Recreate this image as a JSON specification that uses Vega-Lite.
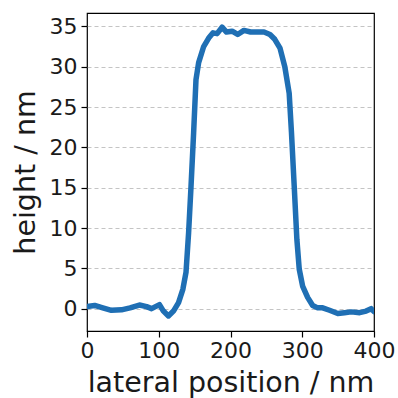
{
  "$schema": "https://vega.github.io/schema/vega-lite/v6.json",
  "autosize": "none",
  "padding": {"left": 87, "top": 13, "right": 24, "bottom": 67},
  "width": 287,
  "height": 318,
  "background": "white",
  "config": {
    "font": "DejaVu Sans",
    "view": {"stroke": "black", "strokeWidth": 1.2},
    "axis": {"labelFont": "DejaVu Sans", "titleFont": "DejaVu Sans", "labelColor": "#1a1a1a", "titleColor": "#1a1a1a", "domain": false, "tickColor": "black", "tickSize": 6, "tickWidth": 1.2, "labelFontSize": 22, "titleFontSize": 28.5, "titleFontWeight": "normal"}
  },
  "data": {"values": [
    {"x": 0, "y": 0.25}, {"x": 10.7, "y": 0.4}, {"x": 22, "y": 0.1}, {"x": 34, "y": -0.2},
    {"x": 48, "y": -0.15}, {"x": 60, "y": 0.1}, {"x": 73, "y": 0.45}, {"x": 83, "y": 0.25},
    {"x": 90, "y": 0.0}, {"x": 101, "y": 0.5}, {"x": 106.5, "y": -0.3}, {"x": 113.5, "y": -0.9},
    {"x": 120.5, "y": -0.3}, {"x": 127.6, "y": 0.75}, {"x": 133.6, "y": 2.4}, {"x": 138, "y": 4.5},
    {"x": 141.6, "y": 9.4}, {"x": 145, "y": 15.2}, {"x": 148.6, "y": 21.8}, {"x": 151.9, "y": 28.4},
    {"x": 155.6, "y": 30.5}, {"x": 162.6, "y": 32.5}, {"x": 169.6, "y": 33.55}, {"x": 175.7, "y": 34.2},
    {"x": 181.3, "y": 34.1}, {"x": 188.3, "y": 34.9}, {"x": 194.4, "y": 34.3}, {"x": 202.3, "y": 34.4},
    {"x": 210, "y": 34.0}, {"x": 218.7, "y": 34.5}, {"x": 228, "y": 34.3}, {"x": 237.4, "y": 34.3},
    {"x": 246.7, "y": 34.3}, {"x": 255, "y": 34.0}, {"x": 261.7, "y": 33.4}, {"x": 269, "y": 32.3},
    {"x": 275.7, "y": 30.0}, {"x": 281.8, "y": 26.7}, {"x": 285, "y": 21.8}, {"x": 288.8, "y": 15.2},
    {"x": 292.5, "y": 8.6}, {"x": 295.8, "y": 4.9}, {"x": 300.5, "y": 2.8}, {"x": 307.5, "y": 1.4},
    {"x": 314.5, "y": 0.4}, {"x": 321.5, "y": 0.1}, {"x": 328.5, "y": 0.1}, {"x": 338, "y": -0.2},
    {"x": 349.5, "y": -0.6}, {"x": 358.9, "y": -0.5}, {"x": 368.2, "y": -0.4}, {"x": 380, "y": -0.5},
    {"x": 389, "y": -0.3}, {"x": 396, "y": 0.0}, {"x": 400, "y": -0.35}
  ]},
  "mark": {"type": "line", "color": "#1f6fb4", "strokeWidth": 5.5, "strokeJoin": "round", "strokeCap": "round", "clip": true},
  "encoding": {
    "x": {"field": "x", "type": "quantitative", "scale": {"domain": [0, 400], "nice": false},
          "axis": {"values": [0, 100, 200, 300, 400], "grid": false, "title": "lateral position / nm", "titlePadding": 7, "labelPadding": 3, "labelFlush": false, "labelOverlap": false}},
    "y": {"field": "y", "type": "quantitative", "scale": {"domain": [-2.77, 36.66], "nice": false, "zero": false},
          "axis": {"values": [0, 5, 10, 15, 20, 25, 30, 35], "grid": true, "gridDash": [4, 3], "gridColor": "#c4c4c4", "gridWidth": 1, "title": "height / nm", "titlePadding": 9, "labelPadding": 4}}
  }
}
